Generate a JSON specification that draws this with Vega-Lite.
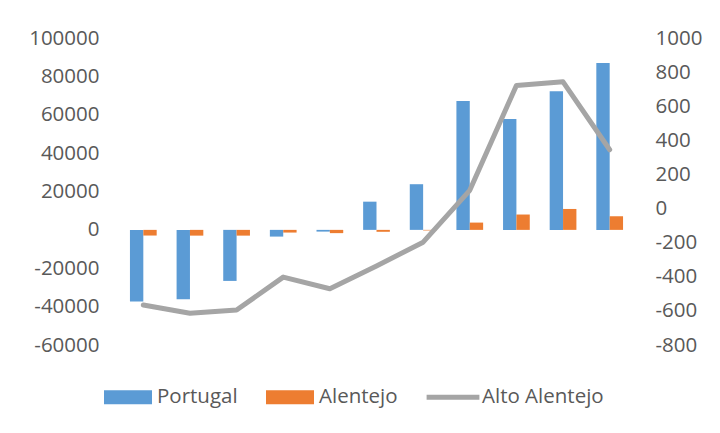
{
  "$schema": "https://vega.github.io/schema/vega-lite/v6.json",
  "width": 513,
  "height": 307,
  "autosize": {"type": "none"},
  "padding": {"left": 120, "top": 38, "right": 87, "bottom": 88},
  "background": "white",
  "config": {
    "view": {"stroke": null},
    "font": "Open Sans",
    "axis": {"labelFont": "Open Sans", "labelFontSize": 20.5, "labelColor": "#595959", "domain": false, "ticks": false, "grid": false},
    "legend": {"labelFont": "Open Sans", "labelFontSize": 20.5, "labelColor": "#595959"}
  },
  "data": {
    "values": [
      {"cat": 1, "series": "Portugal", "value": -37300},
      {"cat": 2, "series": "Portugal", "value": -36100},
      {"cat": 3, "series": "Portugal", "value": -26600},
      {"cat": 4, "series": "Portugal", "value": -3500},
      {"cat": 5, "series": "Portugal", "value": -900},
      {"cat": 6, "series": "Portugal", "value": 14700},
      {"cat": 7, "series": "Portugal", "value": 23800},
      {"cat": 8, "series": "Portugal", "value": 67200},
      {"cat": 9, "series": "Portugal", "value": 57800},
      {"cat": 10, "series": "Portugal", "value": 72200},
      {"cat": 11, "series": "Portugal", "value": 87000},
      {"cat": 1, "series": "Alentejo", "value": -2950},
      {"cat": 2, "series": "Alentejo", "value": -3000},
      {"cat": 3, "series": "Alentejo", "value": -3000},
      {"cat": 4, "series": "Alentejo", "value": -1400},
      {"cat": 5, "series": "Alentejo", "value": -1700},
      {"cat": 6, "series": "Alentejo", "value": -1000},
      {"cat": 7, "series": "Alentejo", "value": -300},
      {"cat": 8, "series": "Alentejo", "value": 3800},
      {"cat": 9, "series": "Alentejo", "value": 8000},
      {"cat": 10, "series": "Alentejo", "value": 10900},
      {"cat": 11, "series": "Alentejo", "value": 7100},
      {"cat": 1, "series": "Alto Alentejo", "value": -565},
      {"cat": 2, "series": "Alto Alentejo", "value": -614},
      {"cat": 3, "series": "Alto Alentejo", "value": -595},
      {"cat": 4, "series": "Alto Alentejo", "value": -402},
      {"cat": 5, "series": "Alto Alentejo", "value": -470},
      {"cat": 6, "series": "Alto Alentejo", "value": -337},
      {"cat": 7, "series": "Alto Alentejo", "value": -197},
      {"cat": 8, "series": "Alto Alentejo", "value": 107},
      {"cat": 9, "series": "Alto Alentejo", "value": 721},
      {"cat": 10, "series": "Alto Alentejo", "value": 743},
      {"cat": 11, "series": "Alto Alentejo", "value": 345}
    ]
  },
  "encoding": {
    "x": {"field": "cat", "type": "ordinal", "axis": null, "scale": {"paddingInner": 0.427, "paddingOuter": 0.2135}},
    "color": {
      "field": "series",
      "type": "nominal",
      "scale": {"domain": ["Portugal", "Alentejo", "Alto Alentejo"], "range": ["#5B9BD5", "#ED7D31", "#A5A5A5"]},
      "legend": {
        "title": null,
        "orient": "none",
        "legendX": -16,
        "legendY": 335,
        "direction": "horizontal",
        "symbolSize": 2304,
        "labelOffset": 5,
        "columnPadding": 28,
        "encode": {
          "symbols": {
            "update": {
              "shape": {"signal": "datum.value === 'Alto Alentejo' ? 'M-1.1,-0.1L1.1,-0.1L1.1,0.1L-1.1,0.1Z' : 'M-1,-0.29L1,-0.29L1,0.29L-1,0.29Z'"},
              "fill": {"signal": "scale('color', datum.value)"},
              "stroke": {"value": "transparent"},
              "strokeWidth": {"value": 0},
              "opacity": {"value": 1}
            }
          }
        }
      }
    }
  },
  "layer": [
    {
      "transform": [{"filter": "datum.series !== 'Alto Alentejo'"}],
      "mark": {"type": "bar"},
      "encoding": {
        "xOffset": {"field": "series", "type": "nominal", "scale": {"domain": ["Portugal", "Alentejo"], "paddingInner": 0, "paddingOuter": 0}},
        "y": {
          "field": "value",
          "type": "quantitative",
          "scale": {"domain": [-60000, 100000], "nice": false, "zero": false},
          "axis": {"title": null, "orient": "left", "values": [-60000, -40000, -20000, 0, 20000, 40000, 60000, 80000, 100000], "labelPadding": 21, "labelExpr": "'' + datum.value"}
        }
      }
    },
    {
      "transform": [{"filter": "datum.series === 'Alto Alentejo'"}],
      "mark": {"type": "line", "strokeWidth": 5, "strokeCap": "round", "strokeJoin": "round"},
      "encoding": {
        "y": {
          "field": "value",
          "type": "quantitative",
          "scale": {"domain": [-800, 1000], "nice": false, "zero": false},
          "axis": {"title": null, "orient": "right", "values": [-800, -600, -400, -200, 0, 200, 400, 600, 800, 1000], "labelPadding": 22, "labelExpr": "'' + datum.value"}
        }
      }
    }
  ],
  "resolve": {"scale": {"y": "independent"}}
}
